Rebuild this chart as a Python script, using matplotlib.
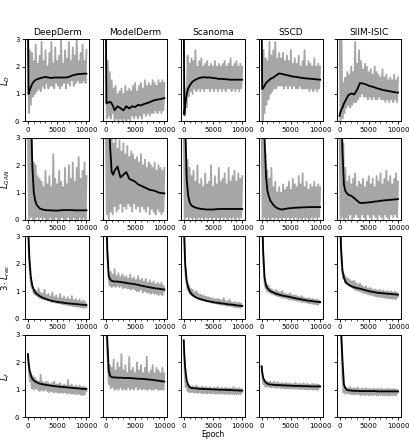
import numpy as np
import matplotlib.pyplot as plt
from matplotlib.ticker import MultipleLocator

datasets = ['DeepDerm', 'ModelDerm', 'Scanoma', 'SSCD', 'SIIM-ISIC']
row_labels = ['$L_D$', '$L_{GAN}$', r'$3 \cdot L_{rec}$', '$L_f$']

# epochs at which the smoothed curves were read
smooth_epochs = [0, 100, 250, 500, 750, 1000, 1250, 1500, 2000, 2500, 3000, 3500, 4000,
                 4500, 5000, 5500, 6000, 6500, 7000, 7500, 8000, 8500, 9000, 9500, 10000]

# ---- L_D ----
ld_raw = [
    [3.5, 0.3, 2.6, 0.6, 2.5, 0.9, 2.2, 1.0, 2.8, 1.1, 2.1, 1.2, 2.4, 1.1, 2.9, 1.3, 2.2, 1.2, 2.6, 1.4, 2.0,
     1.2, 2.5, 1.3, 2.9, 1.3, 2.1, 1.2, 2.7, 1.4, 2.2, 1.3, 2.4, 1.2, 3.0, 1.3, 2.1, 1.4, 2.6, 1.2, 2.3,
     1.4, 2.9, 1.3, 2.2, 1.5, 2.7, 1.3, 2.4, 1.4, 3.0, 1.5, 2.2, 1.4, 2.5, 1.4, 2.8, 1.5, 2.2, 1.4, 2.6],
    [3.5, 0.1, 2.2, 0.2, 1.8, 0.1, 1.5, 0.3, 1.2, 0.0, 1.3, 0.1, 1.0, 0.0, 1.1, 0.1, 1.2, 0.0, 1.0, 0.1, 1.3,
     0.0, 1.1, 0.1, 1.2, 0.0, 1.1, 0.2, 1.3, 0.1, 1.4, 0.2, 1.1, 0.1, 1.3, 0.2, 1.4, 0.1, 1.2, 0.3, 1.5,
     0.2, 1.3, 0.3, 1.4, 0.2, 1.3, 0.3, 1.5, 0.3, 1.4, 0.4, 1.3, 0.3, 1.5, 0.4, 1.4, 0.3, 1.5, 0.4, 1.4],
    [3.5, 0.2, 1.2, 0.5, 2.4, 0.9, 2.1, 1.1, 2.3, 1.0, 2.2, 1.2, 2.6, 1.1, 2.0, 1.2, 2.2, 1.1, 2.3, 1.2, 2.0,
     1.1, 2.1, 1.2, 2.2, 1.2, 2.0, 1.1, 2.1, 1.2, 2.0, 1.1, 2.2, 1.2, 2.0, 1.1, 2.1, 1.2, 2.0, 1.1, 2.1,
     1.2, 2.2, 1.1, 2.0, 1.2, 2.1, 1.2, 2.3, 1.1, 2.0, 1.2, 2.1, 1.1, 2.2, 1.2, 2.0, 1.1, 2.1, 1.2, 2.0],
    [3.5, 0.0, 2.6, 0.3, 2.3, 0.6, 2.2, 0.8, 2.9, 1.0, 2.4, 1.1, 2.6, 1.2, 2.9, 1.2, 2.3, 1.3, 2.5, 1.3, 2.3,
     1.3, 2.5, 1.2, 2.2, 1.3, 2.4, 1.2, 2.2, 1.3, 2.6, 1.2, 2.1, 1.3, 2.3, 1.2, 2.1, 1.2, 2.4, 1.3, 2.0,
     1.2, 2.2, 1.2, 2.6, 1.2, 2.0, 1.2, 2.2, 1.1, 2.1, 1.2, 2.0, 1.1, 2.3, 1.2, 2.0, 1.1, 2.1, 1.2, 2.0],
    [3.5, 0.0, 3.2, 0.1, 1.4, 0.3, 1.6, 0.5, 1.8, 0.6, 1.7, 0.5, 2.0, 0.6, 1.8, 0.7, 2.9, 0.7, 2.1, 0.8, 2.6,
     0.9, 2.2, 1.0, 1.9, 0.9, 2.1, 0.9, 2.0, 0.8, 1.8, 0.9, 1.9, 0.8, 1.7, 0.9, 2.0, 0.8, 1.8, 0.8, 1.7,
     0.9, 1.6, 0.8, 1.9, 0.8, 1.6, 0.7, 1.7, 0.8, 1.5, 0.7, 1.6, 0.8, 1.5, 0.7, 1.7, 0.8, 1.5, 0.7, 1.6],
]
ld_smooth = [
    [4.0, 1.0, 1.1, 1.25, 1.38, 1.45, 1.5, 1.53, 1.57, 1.6, 1.62, 1.6, 1.58, 1.6, 1.6, 1.6, 1.6, 1.6, 1.62,
     1.67, 1.7, 1.72, 1.73, 1.74, 1.74],
    [4.0, 0.65, 0.7, 0.68, 0.72, 0.65, 0.55, 0.4, 0.55, 0.48, 0.4, 0.55, 0.47, 0.55, 0.52, 0.6, 0.58, 0.63,
     0.66, 0.7, 0.75, 0.78, 0.8, 0.82, 0.85],
    [4.0, 0.25, 0.6, 1.0, 1.2, 1.3, 1.38, 1.45, 1.52, 1.57, 1.6, 1.61, 1.6, 1.6, 1.58, 1.57, 1.55, 1.55,
     1.54, 1.53, 1.52, 1.52, 1.52, 1.52, 1.52],
    [4.0, 1.18, 1.2, 1.3, 1.4, 1.45, 1.5, 1.55, 1.6, 1.68, 1.75, 1.73, 1.7, 1.68, 1.65, 1.63, 1.62, 1.6,
     1.58, 1.57, 1.56, 1.55, 1.54, 1.53, 1.52],
    [0.2, 0.3, 0.4, 0.5, 0.65, 0.75, 0.85, 0.95, 1.02, 0.98, 1.15, 1.4, 1.38, 1.35, 1.3, 1.27, 1.24, 1.2,
     1.17, 1.14, 1.12, 1.1, 1.08, 1.06, 1.05],
]

# ---- L_GAN ----
gan_raw = [
    [3.5, 0.0, 3.0, 0.1, 3.0, 0.0, 2.1, 0.0, 2.0, 0.1, 1.6, 0.0, 1.5, 0.1, 1.4, 0.0, 1.2, 0.1, 1.8, 0.0, 1.3,
     0.0, 1.6, 0.1, 1.2, 0.0, 2.4, 0.0, 1.5, 0.1, 1.3, 0.0, 1.8, 0.0, 1.4, 0.1, 1.2, 0.0, 1.9, 0.0, 1.3,
     0.1, 2.0, 0.0, 1.5, 0.0, 2.1, 0.1, 1.4, 0.0, 1.9, 0.0, 2.3, 0.1, 1.5, 0.0, 1.8, 0.1, 2.1, 0.0, 1.6],
    [3.5, 0.2, 3.2, 0.0, 3.0, 0.3, 3.1, 0.2, 2.8, 0.5, 3.0, 0.3, 2.6, 0.4, 2.9, 0.6, 2.5, 0.3, 2.8, 0.5, 2.4,
     0.4, 2.7, 0.6, 2.3, 0.5, 2.5, 0.3, 2.4, 0.6, 2.2, 0.4, 2.3, 0.5, 2.1, 0.3, 2.4, 0.5, 2.0, 0.4, 2.2,
     0.3, 1.9, 0.5, 2.1, 0.2, 2.0, 0.4, 1.9, 0.3, 2.1, 0.2, 1.8, 0.4, 2.0, 0.3, 1.9, 0.2, 1.8, 0.3, 1.9],
    [3.5, 0.0, 3.0, 0.1, 2.2, 0.0, 1.9, 0.1, 1.6, 0.0, 1.8, 0.1, 1.4, 0.0, 2.0, 0.1, 1.3, 0.0, 1.5, 0.1, 1.2,
     0.0, 1.7, 0.1, 1.3, 0.0, 1.4, 0.1, 2.0, 0.0, 1.2, 0.1, 1.6, 0.0, 1.3, 0.1, 1.9, 0.0, 1.4, 0.1, 1.5,
     0.0, 1.7, 0.1, 1.3, 0.0, 1.9, 0.1, 1.4, 0.0, 1.6, 0.1, 1.8, 0.0, 1.4, 0.1, 1.7, 0.0, 1.5, 0.1, 1.6],
    [3.5, 0.0, 3.0, 0.1, 2.4, 0.0, 1.8, 0.1, 1.5, 0.0, 1.9, 0.1, 1.2, 0.0, 1.4, 0.1, 1.0, 0.0, 1.2, 0.1, 1.0,
     0.0, 1.3, 0.1, 1.1, 0.0, 1.2, 0.1, 1.4, 0.0, 1.1, 0.1, 1.5, 0.0, 1.3, 0.1, 1.2, 0.0, 1.6, 0.1, 1.3,
     0.0, 1.7, 0.1, 1.2, 0.0, 1.4, 0.1, 1.1, 0.0, 1.3, 0.1, 1.2, 0.0, 1.4, 0.1, 1.2, 0.0, 1.3, 0.1, 1.2],
    [3.5, 0.0, 3.2, 0.1, 2.8, 0.0, 1.9, 0.1, 1.4, 0.0, 1.6, 0.2, 1.3, 0.0, 1.5, 0.1, 1.7, 0.2, 1.2, 0.1, 1.4,
     0.0, 1.3, 0.2, 1.5, 0.1, 1.2, 0.0, 1.4, 0.2, 1.6, 0.1, 1.3, 0.0, 1.5, 0.2, 1.2, 0.1, 1.6, 0.0, 1.4,
     0.2, 1.7, 0.1, 1.3, 0.0, 1.5, 0.2, 1.8, 0.1, 1.4, 0.0, 1.6, 0.2, 1.3, 0.1, 1.5, 0.2, 1.7, 0.1, 1.4],
]
gan_smooth = [
    [5, 5, 5, 4.0, 2.0, 1.0, 0.7, 0.55, 0.42, 0.38, 0.36, 0.35, 0.35, 0.34, 0.34, 0.35, 0.36, 0.36, 0.36,
     0.36, 0.35, 0.35, 0.35, 0.35, 0.35],
    [5, 5, 5, 4.0, 2.6, 1.75, 1.65, 1.8, 1.95, 1.55, 1.65, 1.75, 1.5, 1.45, 1.4, 1.3, 1.25, 1.2, 1.15,
     1.1, 1.08, 1.05, 1.0, 0.98, 0.97],
    [5, 5, 3.5, 1.5, 0.9, 0.65, 0.55, 0.5, 0.45, 0.42, 0.4, 0.39, 0.38, 0.38, 0.38, 0.39, 0.4, 0.4, 0.4,
     0.4, 0.4, 0.4, 0.4, 0.4, 0.4],
    [5, 5, 5, 3.0, 1.6, 1.05, 0.85, 0.7, 0.55, 0.45, 0.4, 0.38, 0.4, 0.42, 0.43, 0.44, 0.45, 0.45, 0.46,
     0.46, 0.47, 0.47, 0.47, 0.47, 0.47],
    [5, 5, 5, 2.5, 1.3, 1.05, 0.98, 0.92, 0.88, 0.8, 0.7, 0.62, 0.62, 0.63, 0.64, 0.65, 0.67, 0.68, 0.7,
     0.71, 0.72, 0.73, 0.74, 0.75, 0.76],
]

# ---- 3 * L_rec ----
rec_raw = [
    [3.5, 2.3, 1.7, 1.3, 1.1, 1.15, 0.9, 1.05, 0.85, 1.0, 0.8, 1.1, 0.75, 0.95, 0.72, 0.9, 0.7, 1.05, 0.68,
     0.85, 0.66, 0.9, 0.65, 0.8, 0.6, 0.95, 0.6, 0.78, 0.58, 0.85, 0.56, 0.74, 0.55, 0.9, 0.54, 0.72, 0.52,
     0.8, 0.5, 0.7, 0.5, 0.78, 0.48, 0.68, 0.47, 0.82, 0.45, 0.66, 0.44, 0.72, 0.43, 0.64, 0.42, 0.7, 0.41,
     0.62, 0.4, 0.66, 0.39, 0.6, 0.42],
    [3.5, 2.8, 1.9, 1.5, 1.2, 1.7, 1.15, 1.6, 1.2, 1.8, 1.15, 1.55, 1.2, 1.65, 1.15, 1.5, 1.2, 1.6, 1.1, 1.5,
     1.15, 1.55, 1.1, 1.45, 1.1, 1.6, 1.05, 1.45, 1.1, 1.5, 1.05, 1.4, 1.0, 1.55, 1.0, 1.4, 1.05, 1.45,
     0.95, 1.35, 1.0, 1.45, 0.95, 1.3, 0.95, 1.4, 0.9, 1.3, 0.95, 1.35, 0.9, 1.25, 0.9, 1.3, 0.85, 1.25,
     0.9, 1.3, 0.85, 1.2, 1.0],
    [3.5, 2.2, 1.5, 1.25, 1.05, 1.2, 0.9, 1.1, 0.85, 1.05, 0.8, 0.95, 0.78, 1.0, 0.74, 0.9, 0.7, 0.88, 0.68,
     0.85, 0.66, 0.82, 0.64, 0.8, 0.62, 0.78, 0.6, 0.76, 0.58, 0.74, 0.56, 0.72, 0.55, 0.7, 0.54, 0.72,
     0.52, 0.68, 0.5, 0.66, 0.5, 0.75, 0.48, 0.64, 0.47, 0.62, 0.46, 0.7, 0.45, 0.6, 0.44, 0.58, 0.42, 0.6,
     0.41, 0.56, 0.4, 0.58, 0.39, 0.55, 0.45],
    [3.5, 3.0, 1.9, 1.3, 1.1, 1.25, 0.98, 1.2, 0.95, 1.1, 0.9, 1.05, 0.88, 1.0, 0.85, 1.05, 0.82, 0.98, 0.8,
     0.95, 0.78, 1.0, 0.76, 0.92, 0.75, 0.9, 0.72, 0.88, 0.7, 0.92, 0.7, 0.86, 0.68, 0.84, 0.66, 0.85,
     0.65, 0.8, 0.64, 0.78, 0.62, 0.82, 0.6, 0.76, 0.6, 0.74, 0.58, 0.72, 0.56, 0.75, 0.55, 0.7, 0.54, 0.72,
     0.52, 0.68, 0.52, 0.7, 0.5, 0.66, 0.58],
    [3.5, 3.0, 2.1, 1.7, 1.45, 1.6, 1.3, 1.5, 1.25, 1.45, 1.2, 1.4, 1.15, 1.35, 1.1, 1.38, 1.05, 1.3, 1.02,
     1.25, 1.0, 1.28, 0.98, 1.2, 0.95, 1.15, 0.92, 1.18, 0.9, 1.1, 0.88, 1.12, 0.86, 1.08, 0.85, 1.05,
     0.82, 1.06, 0.8, 1.02, 0.8, 1.05, 0.78, 1.0, 0.77, 1.02, 0.76, 0.98, 0.75, 1.0, 0.74, 0.96, 0.73, 1.0,
     0.72, 0.95, 0.72, 0.98, 0.7, 0.94, 0.8],
]
rec_smooth = [
    [5, 3.0, 2.2, 1.5, 1.2, 1.05, 0.95, 0.9, 0.82, 0.76, 0.72, 0.68, 0.65, 0.63, 0.61, 0.59, 0.58, 0.56,
     0.55, 0.54, 0.53, 0.52, 0.51, 0.5, 0.49],
    [5, 4.0, 2.5, 1.55, 1.42, 1.38, 1.36, 1.35, 1.35, 1.33, 1.32, 1.3, 1.28, 1.27, 1.25, 1.23, 1.2, 1.18,
     1.16, 1.14, 1.12, 1.1, 1.09, 1.07, 1.06],
    [5, 3.0, 2.0, 1.4, 1.15, 1.0, 0.92, 0.86, 0.78, 0.73, 0.7, 0.67, 0.64, 0.62, 0.6, 0.58, 0.57, 0.55,
     0.54, 0.52, 0.51, 0.5, 0.48, 0.47, 0.46],
    [5, 4.0, 2.5, 1.5, 1.22, 1.1, 1.05, 1.0, 0.95, 0.9, 0.87, 0.84, 0.82, 0.8, 0.78, 0.75, 0.73, 0.71,
     0.69, 0.67, 0.65, 0.64, 0.62, 0.61, 0.6],
    [5, 4.0, 2.6, 1.75, 1.5, 1.35, 1.28, 1.24, 1.18, 1.14, 1.11, 1.09, 1.06, 1.03, 1.0, 0.98, 0.96, 0.94,
     0.93, 0.92, 0.91, 0.9, 0.89, 0.88, 0.87],
]

# ---- L_f ----
f_raw = [
    [2.3, 1.7, 1.3, 1.6, 1.05, 1.5, 1.0, 1.45, 1.05, 1.35, 1.0, 1.3, 0.95, 1.55, 1.0, 1.3, 0.95, 1.25, 1.0,
     1.3, 0.95, 1.25, 0.9, 1.2, 0.95, 1.25, 0.9, 1.3, 0.92, 1.2, 0.9, 1.2, 0.88, 1.25, 0.9, 1.15, 0.88,
     1.2, 0.9, 1.15, 0.86, 1.35, 0.88, 1.15, 0.85, 1.2, 0.86, 1.1, 0.85, 1.15, 0.84, 1.1, 0.85, 1.15, 0.82,
     1.1, 0.8, 1.12, 0.82, 1.08, 0.95],
    [3.5, 2.8, 2.0, 1.2, 1.9, 1.05, 1.8, 1.1, 2.1, 1.0, 1.7, 1.05, 2.0, 1.0, 1.8, 1.1, 2.3, 1.0, 1.7, 1.05,
     1.9, 1.0, 1.6, 1.1, 2.2, 1.0, 1.7, 1.05, 1.8, 1.0, 1.6, 1.1, 2.0, 1.0, 1.7, 1.05, 1.9, 1.0, 1.6, 1.05,
     1.8, 1.0, 2.2, 1.0, 1.6, 1.05, 1.7, 1.0, 1.9, 1.0, 1.6, 1.05, 1.8, 1.0, 1.7, 1.0, 1.6, 1.0, 1.8, 1.0,
     1.6],
    [2.8, 1.6, 1.1, 1.3, 0.95, 1.15, 0.9, 1.1, 0.92, 1.12, 0.9, 1.1, 0.9, 1.15, 0.88, 1.1, 0.9, 1.08, 0.88,
     1.12, 0.87, 1.08, 0.88, 1.1, 0.86, 1.06, 0.88, 1.1, 0.86, 1.05, 0.87, 1.08, 0.85, 1.06, 0.86, 1.1,
     0.85, 1.05, 0.86, 1.07, 0.85, 1.04, 0.84, 1.08, 0.85, 1.05, 0.84, 1.06, 0.85, 1.04, 0.84, 1.1, 0.84,
     1.05, 0.83, 1.04, 0.84, 1.06, 0.83, 1.03, 0.9],
    [1.85, 1.4, 1.2, 1.35, 1.1, 1.3, 1.12, 1.28, 1.1, 1.3, 1.08, 1.25, 1.1, 1.3, 1.08, 1.24, 1.06, 1.28, 1.08,
     1.22, 1.05, 1.25, 1.06, 1.22, 1.05, 1.26, 1.05, 1.22, 1.04, 1.24, 1.05, 1.2, 1.04, 1.22, 1.03, 1.25,
     1.04, 1.2, 1.03, 1.22, 1.02, 1.2, 1.03, 1.24, 1.02, 1.2, 1.02, 1.22, 1.01, 1.18, 1.02, 1.2, 1.0, 1.22,
     1.01, 1.18, 1.0, 1.2, 1.0, 1.18, 1.1],
    [3.5, 3.3, 2.8, 1.4, 0.9, 1.1, 0.85, 1.08, 0.88, 1.05, 0.85, 1.1, 0.84, 1.04, 0.83, 1.06, 0.82, 1.05,
     0.84, 1.08, 0.82, 1.02, 0.8, 1.05, 0.82, 1.03, 0.8, 1.06, 0.82, 1.02, 0.8, 1.04, 0.81, 1.02, 0.8,
     1.05, 0.82, 1.02, 0.79, 1.04, 0.8, 1.02, 0.81, 1.05, 0.8, 1.01, 0.79, 1.03, 0.8, 1.02, 0.78, 1.04,
     0.8, 1.01, 0.79, 1.03, 0.8, 1.02, 0.79, 1.0, 0.9],
]
f_smooth = [
    [2.3, 2.0, 1.75, 1.52, 1.4, 1.34, 1.3, 1.27, 1.22, 1.2, 1.18, 1.16, 1.15, 1.13, 1.12, 1.11, 1.1, 1.09,
     1.08, 1.07, 1.06, 1.05, 1.04, 1.03, 1.03],
    [5, 4.0, 2.8, 1.7, 1.5, 1.46, 1.45, 1.45, 1.44, 1.44, 1.43, 1.43, 1.43, 1.42, 1.41, 1.4, 1.4, 1.39,
     1.38, 1.37, 1.36, 1.34, 1.33, 1.31, 1.3],
    [2.8, 2.3, 1.8, 1.35, 1.18, 1.1, 1.07, 1.06, 1.05, 1.04, 1.03, 1.03, 1.02, 1.02, 1.01, 1.01, 1.0, 1.0,
     1.0, 0.99, 0.99, 0.98, 0.98, 0.97, 0.97],
    [1.85, 1.65, 1.45, 1.32, 1.26, 1.22, 1.2, 1.19, 1.18, 1.17, 1.17, 1.16, 1.16, 1.15, 1.15, 1.14, 1.14,
     1.14, 1.13, 1.13, 1.13, 1.12, 1.12, 1.12, 1.12],
    [5, 4.5, 3.2, 2.1, 1.2, 1.05, 1.0, 0.98, 0.97, 0.96, 0.96, 0.95, 0.95, 0.95, 0.95, 0.95, 0.95, 0.94,
     0.94, 0.94, 0.94, 0.94, 0.94, 0.94, 0.94],
]

raw_rows = [ld_raw, gan_raw, rec_raw, f_raw]
smooth_rows = [ld_smooth, gan_smooth, rec_smooth, f_smooth]

fig, axes = plt.subplots(4, 5, figsize=(4.1, 4.4), dpi=100)
fig.subplots_adjust(left=0.061, right=0.978, top=0.911, bottom=0.052, wspace=0.21, hspace=0.2)

for r in range(4):
    for c in range(5):
        ax = axes[r, c]
        raw = raw_rows[r][c]
        epochs = np.linspace(0, 10000, len(raw))
        ax.plot(epochs, raw, color='#a6a6a6', lw=1.3)
        ax.plot(smooth_epochs, smooth_rows[r][c], color='black', lw=1.3)
        ax.set_ylim(0, 3)
        ax.set_yticks([0, 1, 2, 3])
        ax.set_xticks([0, 5000, 10000])
        ax.xaxis.set_minor_locator(MultipleLocator(1000))
        ax.tick_params(labelsize=5, length=2.5, width=0.6, pad=1.5)
        ax.tick_params(which='minor', length=1.5, width=0.5)
        for s in ax.spines.values():
            s.set_linewidth(0.7)
        if c > 0:
            ax.tick_params(labelleft=False)
        else:
            ax.set_ylabel(row_labels[r], fontsize=6, labelpad=2)
        if r == 0:
            ax.set_title(datasets[c], fontsize=6.5, pad=3)

axes[3, 2].set_xlabel('Epoch', fontsize=5.5, labelpad=1)

plt.savefig('out.png', dpi=100)
